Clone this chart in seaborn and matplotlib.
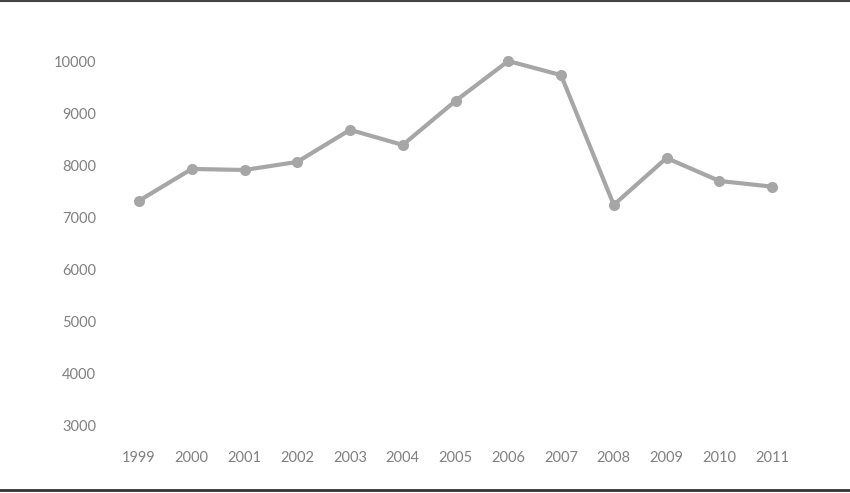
import matplotlib.pyplot as plt
import numpy as np
import pandas as pd
import seaborn as sns
from matplotlib.lines import Line2D

years = [1999, 2000, 2001, 2002, 2003, 2004, 2005, 2006, 2007, 2008, 2009, 2010, 2011]
values = [7320, 7930, 7910, 8065, 8680, 8390, 9235, 10000, 9730, 7240, 8140, 7700, 7590]
yticks = [3000, 4000, 5000, 6000, 7000, 8000, 9000, 10000]

df = pd.DataFrame({"year": years, "value": values})

sns.set_style("white")
plt.rcParams["font.family"] = ["Lato", "DejaVu Sans"]

fig = plt.figure(figsize=(8.5, 4.93), dpi=100)
ax = fig.add_axes([0.1325, 0.1254, 0.8068, 0.7614])

sns.lineplot(data=df, x="year", y="value", ax=ax, color="#a6a6a6", lw=3,
             marker="o", markersize=8, markeredgewidth=0, clip_on=False)

ax.set_xlim(1998.5, 2011.5)
ax.set_ylim(2900, 10100)
ax.set_xticks(years)
ax.set_yticks(yticks)
ax.set_xlabel("")
ax.set_ylabel("")
ax.tick_params(axis="both", length=0, labelsize=10.5, labelcolor="#808080")
ax.tick_params(axis="y", pad=12)
ax.tick_params(axis="x", pad=14)
sns.despine(ax=ax, left=True, bottom=True)

fig.add_artist(Line2D([0, 1], [0.998, 0.998], color="#444444", lw=1.5))
fig.add_artist(Line2D([0, 1], [0.007, 0.007], color="#333333", lw=2))

fig.savefig("out.png", dpi=100)
